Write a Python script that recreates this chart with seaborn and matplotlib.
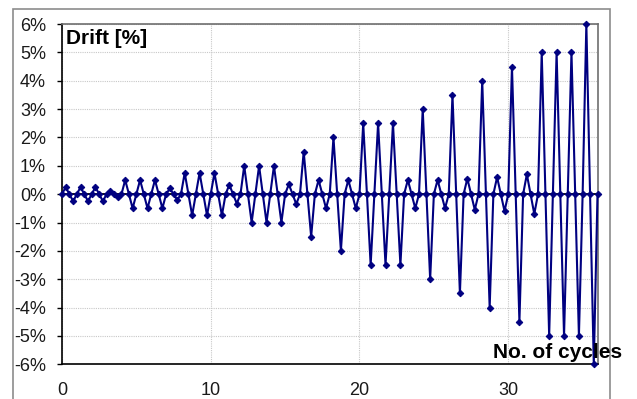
import numpy as np
import pandas as pd
import seaborn as sns
import matplotlib.pyplot as plt
from matplotlib.patches import Rectangle
from matplotlib.ticker import FuncFormatter

# peak drift [%] of each cycle (cycle 1 .. 36)
amplitudes = [0.25, 0.25, 0.25, 0.1,
              0.5, 0.5, 0.5, 0.2,
              0.75, 0.75, 0.75, 0.33,
              1.0, 1.0, 1.0, 0.35,
              1.5, 0.5, 2.0, 0.5,
              2.5, 2.5, 2.5, 0.5,
              3.0, 0.5, 3.5, 0.55,
              4.0, 0.6, 4.5, 0.7,
              5.0, 5.0, 5.0, 6.0]
y_ticks = [-6, -5, -4, -3, -2, -1, 0, 1, 2, 3, 4, 5, 6]
x_ticks = [0, 10, 20, 30]

# each cycle: 0 -> +a -> 0 -> -a, quarter-cycle steps
drift = []
for a in amplitudes:
    drift += [0, a, 0, -a]
drift.append(0)
cycles = np.arange(len(drift)) * 0.25
df = pd.DataFrame({"cycles": cycles, "drift": drift})

sns.set_style("white")
plt.rcParams["font.family"] = ["Liberation Sans", "DejaVu Sans"]

fig = plt.figure(figsize=(6.37, 3.99), dpi=100)
ax = fig.add_axes([0.0973, 0.087, 0.8407, 0.8528])

# outer chart frame
fig.patches.append(Rectangle((13 / 637, -0.1), (610 - 13) / 637, 1.1 - 9 / 399,
                             transform=fig.transFigure, fill=False,
                             edgecolor="#8c8c8c", linewidth=1.2))

ax.axhline(0, color="black", linewidth=1.3, zorder=1)
sns.lineplot(data=df, x="cycles", y="drift", sort=False, estimator=None,
             color="#000080", linewidth=1.5, marker="D", markersize=3.3,
             markeredgecolor="#000080", ax=ax, zorder=3, clip_on=False)

ax.set_xlim(0, 36)
ax.set_ylim(-6, 6)
ax.set_xticks(x_ticks)
ax.set_yticks(y_ticks)
ax.yaxis.set_major_formatter(FuncFormatter(lambda v, p: f"{v:.0f}%"))
ax.grid(True, color="#c8c8c8", linestyle=(0, (1, 1)), linewidth=0.8)
ax.set_axisbelow(True)
ax.set_xlabel("")
ax.set_ylabel("")

ax.tick_params(axis="y", left=True, length=3.5, width=1, color="black",
               pad=8, labelsize=13, labelcolor="#1a1a1a")
ax.tick_params(axis="x", bottom=False, length=0, pad=13, labelsize=13,
               labelcolor="#1a1a1a")

for s in ["left", "bottom"]:
    ax.spines[s].set_color("black")
    ax.spines[s].set_linewidth(1.2)
for s in ["top", "right"]:
    ax.spines[s].set_color("#6e6e6e")
    ax.spines[s].set_linewidth(1.2)

ax.text(0.008, 0.985, "Drift [%]", transform=ax.transAxes, ha="left", va="top",
        fontsize=15, fontweight="bold", color="black")
fig.text(493 / 637, 1 - 353 / 399, "No. of cycles", ha="left", va="center",
         fontsize=15, fontweight="bold", color="black", zorder=5)

fig.savefig("out.png", dpi=100)
